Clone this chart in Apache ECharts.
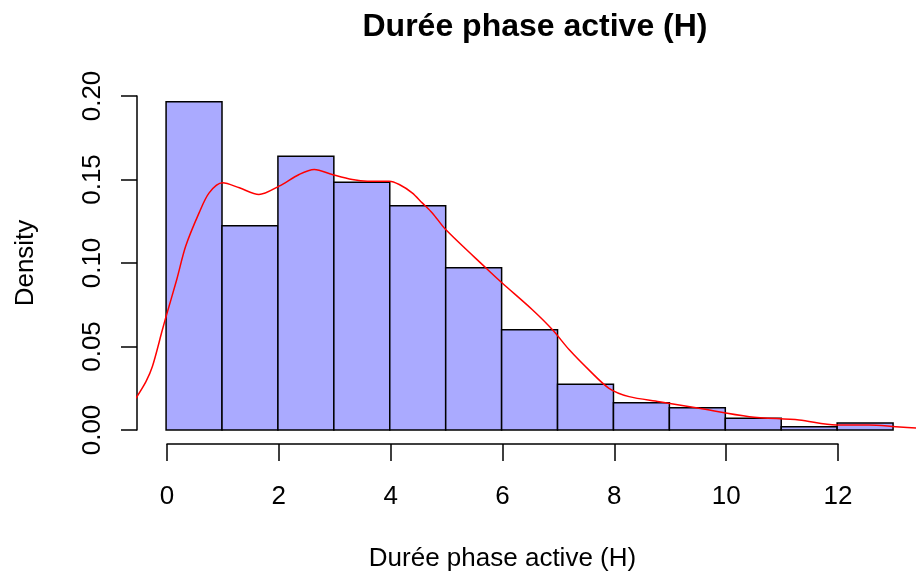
<!DOCTYPE html>
<html>
<head>
<meta charset="utf-8">
<script src="https://cdn.jsdelivr.net/npm/echarts@6/dist/echarts.min.js"></script>
<style>
  html, body { margin: 0; padding: 0; background: #fff; }
  #main { width: 916px; height: 577px; }
</style>
</head>
<body>
<div id="main"></div>
<script>
// histogramme : bornes des classes et densités
var binStart = [0, 1, 2, 3, 4, 5, 6, 7, 8, 9, 10, 11, 12];
var binEnd = [1, 2, 3, 4, 5, 6, 7, 8, 9, 10, 11, 12, 13];
var density = [0.1966, 0.1223, 0.1639, 0.1483, 0.1343, 0.0972, 0.0601, 0.0274, 0.0164, 0.0134, 0.0070, 0.0020, 0.0042];

// courbe de densité (rouge)
var curveX = [-0.54, -0.36, -0.245, -0.066, 0.0, 0.19, 0.35, 0.59, 0.77, 1.01, 1.31, 1.66, 2.02, 2.38, 2.65, 2.97, 3.33, 3.6, 3.99, 4.17, 4.40, 4.58, 4.76, 5.0, 5.72, 6.01, 6.55, 6.91, 7.21, 7.56, 7.92, 8.28, 8.82, 9.53, 10.43, 11.32, 11.98, 12.57, 13.05, 13.52];
var curveY = [0.019, 0.029, 0.038, 0.060, 0.068, 0.090, 0.110, 0.130, 0.142, 0.148, 0.145, 0.141, 0.146, 0.153, 0.156, 0.153, 0.150, 0.149, 0.149, 0.147, 0.142, 0.136, 0.130, 0.120, 0.097, 0.088, 0.072, 0.060, 0.048, 0.036, 0.025, 0.020, 0.017, 0.013, 0.008, 0.006, 0.003, 0.003, 0.002, 0.001];

var xTicks = [0, 2, 4, 6, 8, 10, 12];
var yTicks = [0, 0.05, 0.10, 0.15, 0.20];

var FONT = 'Liberation Sans, Arial, sans-serif';

var histData = [];
for (var i = 0; i < binStart.length; i++) {
  histData.push([binStart[i], binEnd[i], density[i]]);
}
var curveData = [];
for (var j = 0; j < curveX.length; j++) {
  curveData.push([curveX[j], curveY[j]]);
}

var myChart = echarts.init(document.getElementById('main'));
var option = {
  animation: false,
  backgroundColor: '#fff',
  title: {
    text: 'Durée phase active (H)',
    left: 530,
    top: 6,
    textAlign: 'center',
    textStyle: { fontFamily: FONT, fontSize: 32, fontWeight: 'bold', color: '#000' }
  },
  grid: [
    // zone de tracé (coupée au bord droit de l'image)
    { left: 137, top: 82.6, width: 779, height: 360.8 },
    // axe x (de 0 à 12, comme R)
    { left: 167, top: 82.6, width: 671, height: 361.4 },
    // axe y (de 0 à 0.20)
    { left: 137, top: 96, width: 100, height: 334 }
  ],
  xAxis: [
    { gridIndex: 0, type: 'value', min: -0.52, max: 13.41, show: false },
    {
      gridIndex: 1, type: 'value', min: 0, max: 12, interval: 2,
      axisLine: { show: true, onZero: false, lineStyle: { color: '#000', width: 1.5 } },
      axisTick: { show: true, length: 17, lineStyle: { color: '#000', width: 1.5 } },
      axisLabel: {
        margin: 40, color: '#000', fontFamily: FONT, fontSize: 26,
        customValues: xTicks
      },
      splitLine: { show: false },
      name: 'Durée phase active (H)',
      nameLocation: 'middle',
      nameGap: 102,
      nameTextStyle: { fontFamily: FONT, fontSize: 26, color: '#000' }
    },
    { gridIndex: 2, type: 'value', min: 0, max: 1, show: false }
  ],
  yAxis: [
    { gridIndex: 0, type: 'value', min: -0.008, max: 0.208, show: false },
    { gridIndex: 1, type: 'value', min: 0, max: 1, show: false },
    {
      gridIndex: 2, type: 'value', min: 0, max: 0.2, interval: 0.05,
      axisLine: { show: true, onZero: false, lineStyle: { color: '#000', width: 1.5 } },
      axisTick: { show: true, length: 16, lineStyle: { color: '#000', width: 1.5 } },
      axisLabel: {
        margin: 31, rotate: 90, color: '#000', fontFamily: FONT, fontSize: 26,
        customValues: yTicks,
        formatter: function (v) { return v.toFixed(2); }
      },
      splitLine: { show: false },
      name: 'Density',
      nameLocation: 'middle',
      nameRotate: 90,
      nameGap: 98,
      nameTextStyle: { fontFamily: FONT, fontSize: 26, color: '#000' }
    }
  ],
  series: [
    {
      type: 'custom',
      xAxisIndex: 0,
      yAxisIndex: 0,
      data: histData,
      encode: { x: [0, 1], y: 2 },
      renderItem: function (params, api) {
        var p0 = api.coord([api.value(0), 0]);
        var p1 = api.coord([api.value(1), api.value(2)]);
        return {
          type: 'rect',
          shape: { x: p0[0], y: p1[1], width: p1[0] - p0[0], height: p0[1] - p1[1] },
          style: { fill: '#AAAAFF', stroke: '#000', lineWidth: 1.5 }
        };
      }
    },
    {
      type: 'line',
      xAxisIndex: 0,
      yAxisIndex: 0,
      data: curveData,
      smooth: 0.3,
      showSymbol: false,
      clip: true,
      lineStyle: { color: '#FF0000', width: 1.5 },
      z: 5
    }
  ]
};
myChart.setOption(option);
</script>
</body>
</html>
